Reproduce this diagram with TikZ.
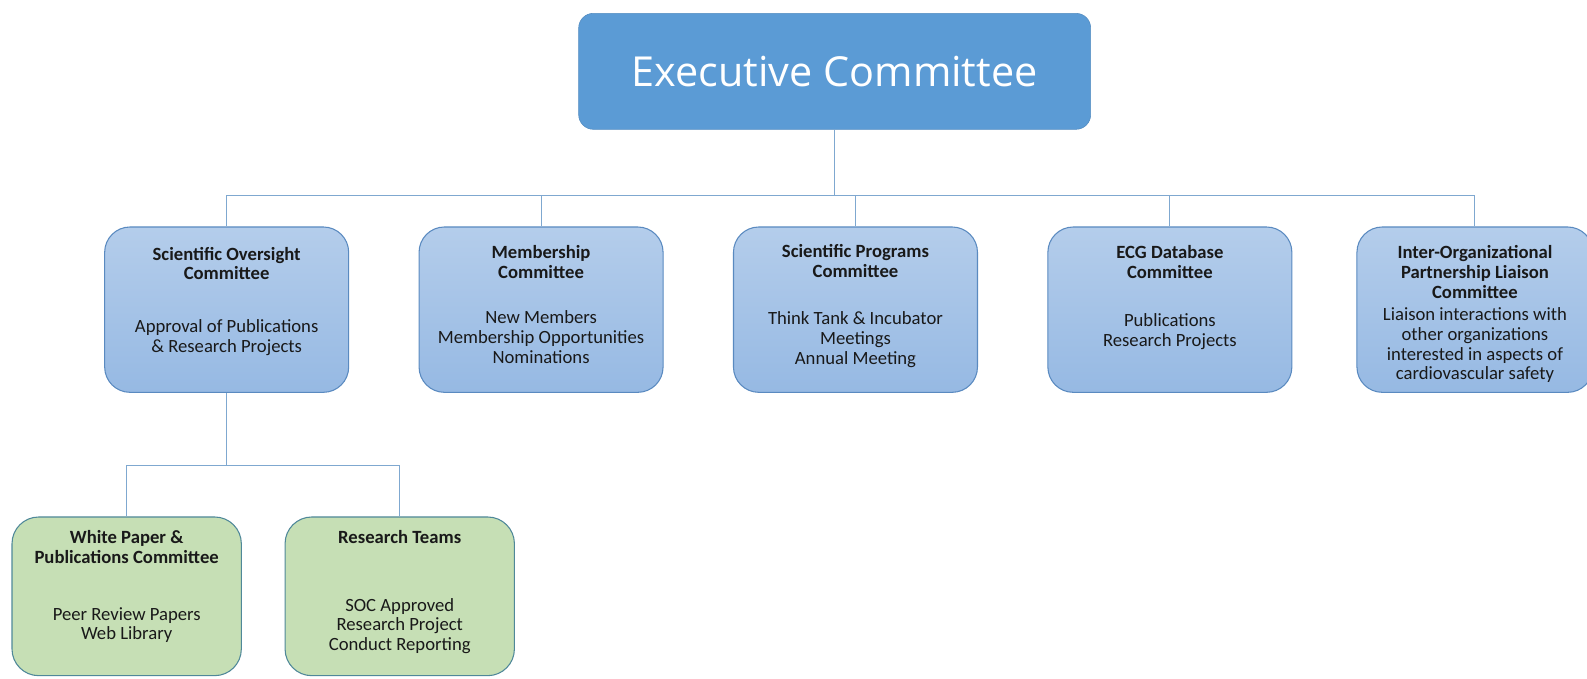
\documentclass[tikz,border=0pt]{standalone}
\usepackage{fontspec}
\setmainfont{Carlito}
\newfontfamily\titlefont{Open Sans}
\usepackage{xcolor}
\usetikzlibrary{positioning, calc}

\definecolor{execblue}{HTML}{5B9BD5}
\definecolor{paneltop}{HTML}{B4CDEB}
\definecolor{panelbot}{HTML}{96B9E3}
\definecolor{panelline}{HTML}{5A8AC0}
\definecolor{teamfill}{HTML}{C6DFB5}
\definecolor{teamline}{HTML}{4F8899}
\definecolor{wire}{HTML}{7FA8D0}

% height, top gap, heading, gap, body
\newcommand{\boxtext}[5]{%
  \begin{minipage}[t][#1][t]{172pt}\centering
    \vspace*{#2}\textbf{#3}\par\vspace{#4}#5%
  \end{minipage}}

\begin{document}
\begin{tikzpicture}[
    node distance=52pt and 52pt,
    exec/.style={rectangle, draw=execblue!90!black, fill=execblue, rounded corners=11pt, minimum width=384pt, minimum height=87pt, text=white, font=\titlefont\fontsize{31}{34}\selectfont},
    panel/.style={rectangle, draw=panelline, line width=0.8pt, top color=paneltop, bottom color=panelbot, rounded corners=19pt, minimum width=183pt, minimum height=124pt, inner sep=0pt, text=black!90, font=\fontsize{14}{14.8}\selectfont},
    team/.style={rectangle, draw=teamline, line width=0.8pt, fill=teamfill, rounded corners=20pt, minimum width=172pt, minimum height=119pt, inner sep=0pt, text=black!90, font=\fontsize{14}{14.8}\selectfont},
    link/.style={draw=wire, line width=0.8pt}
]
\useasboundingbox (0,0) rectangle (1190.25pt,508.5pt);

% Nodes
\node[exec] (exec) at (626pt,455pt) {Executive Committee};

\node[panel] (soc) at (170pt,276.25pt) {\boxtext{124pt}{15pt}{Scientific Oversight\\Committee}{25pt}{Approval of Publications\\\& Research Projects}};
\node[panel, right=of soc] (member) {\boxtext{124pt}{14pt}{Membership\\Committee}{19pt}{New Members\\Membership Opportunities\\Nominations}};
\node[panel, right=of member] (programs) {\boxtext{124pt}{13pt}{Scientific Programs\\Committee}{21pt}{Think Tank \& Incubator\\Meetings\\Annual Meeting}};
\node[panel, right=of programs] (ecg) {\boxtext{124pt}{14pt}{ECG Database\\Committee}{21.5pt}{Publications\\Research Projects}};
\node[panel, right=48pt of ecg, minimum width=177pt] (liaison) {\boxtext{124pt}{14pt}{Inter-Organizational\\Partnership Liaison\\Committee}{2pt}{Liaison interactions with\\other organizations\\interested in aspects of\\cardiovascular safety}};

\node[team] (whitepaper) at (95pt,61.25pt) {\boxtext{119pt}{10pt}{White Paper \&\\Publications Committee}{28pt}{Peer Review Papers\\Web Library}};
\node[team, right=32pt of whitepaper] (research) {\boxtext{119pt}{10pt}{Research Teams}{36pt}{SOC Approved\\Research Project\\Conduct Reporting}};

% Paths
\foreach \child in {soc, member, programs, ecg, liaison}
  \path[link] (exec.south) -- ++(0,-49.5pt) -| (\child.north);
\foreach \child in {whitepaper, research}
  \path[link] (soc.south) -- ++(0,-54.5pt) -| (\child.north);

\end{tikzpicture}
\end{document}
